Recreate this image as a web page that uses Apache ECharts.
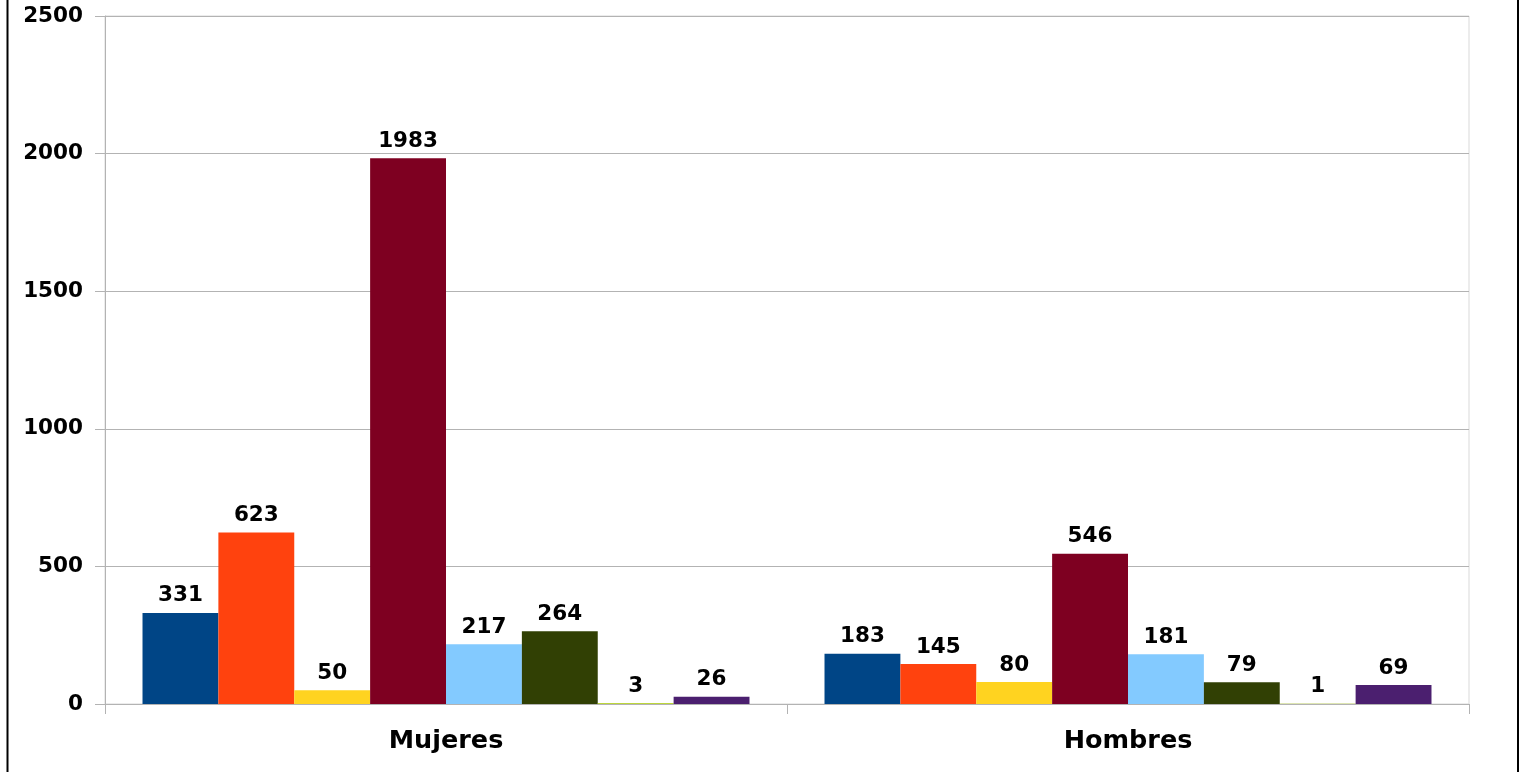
<!DOCTYPE html>
<html>
<head>
<meta charset="utf-8">
<script src="https://cdn.jsdelivr.net/npm/echarts@6/dist/echarts.min.js"></script>
<style>
html,body{margin:0;padding:0;background:#fff;}
#chart{width:1520px;height:772px;}
</style>
</head>
<body>
<div id="chart"></div>
<script>
const categories = ['Mujeres', 'Hombres'];
const seriesNames = ['Serie 1', 'Serie 2', 'Serie 3', 'Serie 4', 'Serie 5', 'Serie 6', 'Serie 7', 'Serie 8'];
const s1 = [331, 183];
const s2 = [623, 145];
const s3 = [50, 80];
const s4 = [1983, 546];
const s5 = [217, 181];
const s6 = [264, 79];
const s7 = [3, 1];
const s8 = [26, 69];
const seriesValues = [s1, s2, s3, s4, s5, s6, s7, s8];
const colors = ['#004586', '#ff420e', '#ffd320', '#7e0021', '#83caff', '#314004', '#aecf00', '#4b1f6f'];
const yMin = 0, yMax = 2500, yStep = 500;

const font = 'DejaVu Sans';
const chart = echarts.init(document.getElementById('chart'), null, {renderer: 'canvas'});
chart.setOption({
  animation: false,
  backgroundColor: '#ffffff',
  grid: {left: 105, right: 51, top: 16, bottom: 68, show: true, borderColor: '#d9d9d9', borderWidth: 1, backgroundColor: 'transparent'},
  xAxis: {
    type: 'category',
    data: categories,
    axisLine: {show: true, lineStyle: {color: '#b3b3b3', width: 1}},
    axisTick: {show: true, alignWithLabel: false, length: 10, lineStyle: {color: '#b3b3b3', width: 1}},
    axisLabel: {color: '#000', fontFamily: font, fontWeight: 'bold', fontSize: 25.5, margin: 24}
  },
  yAxis: {
    type: 'value',
    min: yMin, max: yMax, interval: yStep,
    axisLine: {show: true, lineStyle: {color: '#b3b3b3', width: 1}},
    axisTick: {show: true, inside: false, length: 10, lineStyle: {color: '#b3b3b3', width: 1}},
    splitLine: {show: true, lineStyle: {color: '#b3b3b3', width: 1}},
    axisLabel: {color: '#000', fontFamily: font, fontWeight: 'bold', fontSize: 21.5, margin: 22,
      formatter: v => String(v)}
  },
  series: seriesValues.map((vals, i) => ({
    name: seriesNames[i],
    type: 'bar',
    data: vals,
    barGap: '0%',
    barCategoryGap: '11%',
    itemStyle: {color: colors[i]},
    label: {show: true, position: 'top', distance: 6, color: '#000', fontFamily: font, fontWeight: 'bold', fontSize: 21.5}
  })),
  graphic: [
    {type: 'line', shape: {x1: 7.5, y1: 0, x2: 7.5, y2: 772}, style: {stroke: '#000', lineWidth: 2}},
    {type: 'line', shape: {x1: 1518, y1: 0, x2: 1518, y2: 772}, style: {stroke: '#000', lineWidth: 2}}
  ]
});
</script>
</body>
</html>
